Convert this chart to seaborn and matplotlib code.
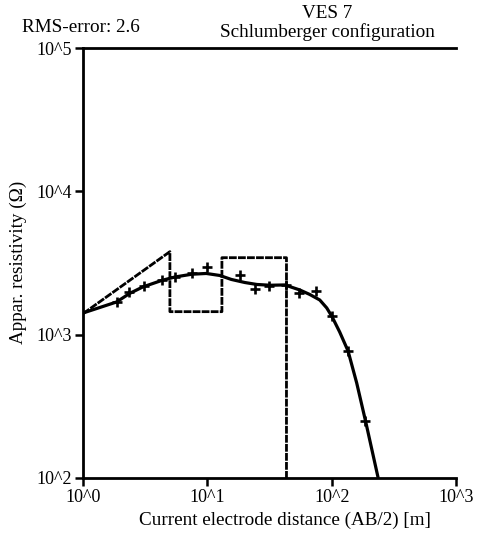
import matplotlib
matplotlib.use("Agg")
import matplotlib.pyplot as plt
import seaborn as sns
import pandas as pd
import numpy as np

# Measured data (AB/2 [m], apparent resistivity)
data_x = [1.86, 2.34, 3.08, 4.30, 5.47, 7.48, 9.89, 18.2, 24.0, 31.2, 42.7, 54.4, 74.4, 101, 135.5, 187]
data_y = [1690, 1970, 2168, 2390, 2527, 2696, 2945, 2610, 2074, 2168, 2223, 1954, 2018, 1340, 769, 251]

# Model response curve
curve_x = [1.0, 1.86, 2.37, 3.03, 4.3, 5.5, 7.5, 9.8, 12.6, 15.6, 20, 25, 32, 42, 55.4, 66.6, 80.2, 91.3, 100.7, 116, 135.5, 159, 187, 236]
curve_y = [1416, 1690, 1939, 2153, 2390, 2527, 2640, 2673, 2588, 2428, 2312, 2240, 2212, 2223, 2051, 1908, 1746, 1536, 1335, 1044, 769, 460, 251, 101]

# Layered model polyline
model_x = [1.0, 5.0, 5.0, 13.1, 13.1, 43.3, 43.3]
model_y = [1400, 3795, 1447, 1447, 3444, 3444, 100]

x_ticks = [1, 10, 100, 1000]
x_ticklabels = ["10^0", "10^1", "10^2", "10^3"]
y_ticks = [100, 1000, 10000, 100000]
y_ticklabels = ["10^2", "10^3", "10^4", "10^5"]

sns.set_theme(style="white")
plt.rcParams['font.family'] = ['Liberation Serif', 'DejaVu Serif']

W, H = 482, 533
fig = plt.figure(figsize=(W / 100, H / 100), dpi=100)
ax = fig.add_axes([83 / W, 1 - 478 / H, (456 - 83) / W, (478 - 48) / H])

df_model = pd.DataFrame({"x": model_x, "y": model_y})
sns.lineplot(data=df_model, x="x", y="y", sort=False, estimator=None, ax=ax,
             color="black", linewidth=2.0, linestyle=(0, (2.8, 0.45)))

df_curve = pd.DataFrame({"x": curve_x, "y": curve_y})
sns.lineplot(data=df_curve, x="x", y="y", sort=False, estimator=None, ax=ax,
             color="black", linewidth=2.3)

df_data = pd.DataFrame({"x": data_x, "y": data_y})
sns.scatterplot(data=df_data, x="x", y="y", ax=ax, marker="+", s=55,
                color="black", linewidth=1.9, zorder=5)

ax.set_xscale("log")
ax.set_yscale("log")
ax.set_xlim(1, 1000)
ax.set_ylim(100, 100000)
ax.set_xticks(x_ticks)
ax.set_xticklabels(x_ticklabels)
ax.set_yticks(y_ticks)
ax.set_yticklabels(y_ticklabels)
ax.minorticks_off()
ax.tick_params(axis="both", which="major", direction="out", length=6, width=1.8,
               colors="black", labelsize=13, pad=2, bottom=True, left=True)
ax.set_xlabel("")
ax.set_ylabel("")
for side in ["left", "bottom", "top"]:
    ax.spines[side].set_visible(True)
    ax.spines[side].set_color("black")
    ax.spines[side].set_linewidth(2.0)
ax.spines["right"].set_visible(False)
ax.grid(False)

fs = 13.8
fig.text(285 / W, 1 - 520 / H, "Current electrode distance (AB/2) [m]", ha="center",
         va="center", fontsize=fs, color="black")
fig.text(18 / W, 1 - 262 / H, "Appar. resistivity (\u03a9)", ha="center", va="center",
         rotation=90, fontsize=fs, color="black")
fig.text(81 / W, 1 - 27 / H, "RMS-error: 2.6", ha="center", va="center",
         fontsize=fs, color="black")
fig.text(327 / W, 1 - 14 / H, "VES 7", ha="center", va="center",
         fontsize=fs, color="black")
fig.text(327 / W, 1 - 32 / H, "Schlumberger configuration", ha="center", va="center",
         fontsize=fs, color="black")

fig.savefig("out.png", dpi=100, facecolor="white")
